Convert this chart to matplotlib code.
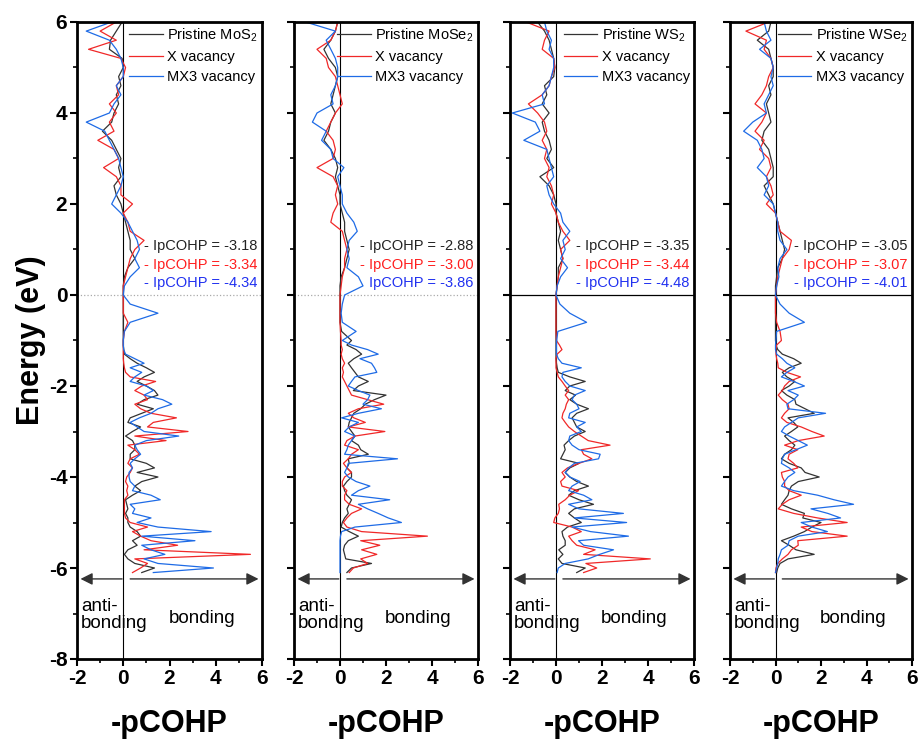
import numpy as np
import matplotlib.pyplot as plt
from matplotlib.ticker import MultipleLocator

plt.rcParams['font.family'] = ['Liberation Sans', 'DejaVu Sans']
plt.rcParams['axes.unicode_minus'] = False

# energy grid (eV): coarse above -1 eV, finer in the bonding region
energy_hi = np.round(np.arange(6.0, -0.9, -0.2), 2)
energy_lo = np.round(np.arange(-1.0, -6.15, -0.1), 2)
energy = np.concatenate([energy_hi, energy_lo])

# -pCOHP, one list per curve (hi part then lo part)
mos2_pristine = [
    -0.05, -0.3, -0.55, -0.6, -0.05, 0.0, -0.2, -0.1, -0.3, -0.2,
    -0.4, -0.5, -0.9, -0.5, -0.3, -0.1, -0.2, -0.1, -0.4, -0.3,
    -0.1, 0.0, 0.1, 0.2, 0.3, 0.3, 0.5, 0.2, 0.05, 0.0,
    0.0, 0.0, 0.0, 0.0, 0.0,
    0.0, 0.0, 0.02, 0.05, 0.3, 0.6, 1.0, 1.35, 0.9, 0.6,
    1.0, 1.35, 1.5, 0.9, 0.6, 1.3, 0.8, 0.3, 0.2, 0.75,
    0.4, 0.1, 0.4, 0.5, 0.5, 0.3, 0.3, 1.0, 1.35, 0.6,
    1.5, 0.8, 0.5, 0.75, 0.4, 0.1, 0.15, 0.2, 0.1, 0.2,
    0.2, 0.3, 0.6, 0.75, 0.4, 0.6, 0.2, 0.05, 0.2, 0.5,
    1.35, 0.8]
mos2_xvac = [
    -0.3, -1.0, -0.3, -1.5, -0.1, 0.1, 0.0, -0.3, -0.2, -0.6,
    -0.3, -0.6, -0.4, -1.1, -0.4, -0.2, -0.85, -0.3, -0.1, -0.1,
    0.4, 0.0, 0.2, 0.3, 0.9, 0.5, 0.3, 0.2, 0.1, 0.0,
    0.0, 0.0, 0.0, 0.2, 0.05,
    0.0, 0.0, 0.0, 0.0, 0.0, 0.02, 0.05, 0.1, 0.3, 1.4,
    0.8, 0.5, 0.9, 1.05, 0.5, 0.75, 1.2, 2.3, 1.3, 1.05,
    2.8, 0.5, 1.85, 0.2, 0.5, 0.7, 0.3, 0.2, 0.4, 0.3,
    0.15, 0.1, 0.2, 0.15, 0.2, 0.05, 0.05, 0.05, 0.05, 0.1,
    0.3, 1.05, 0.4, 0.75, 1.2, 2.35, 0.9, 5.5, 0.5, 1.05,
    0.75, 0.4]
mos2_mx3vac = [
    -0.5, -1.6, -0.6, -0.3, -0.1, 0.0, 0.0, -0.3, -0.1, -0.4,
    -0.6, -1.6, -0.8, -0.6, -0.4, -0.2, -0.1, 0.0, -0.1, -0.3,
    -0.5, -0.1, 0.2, 0.4, 0.6, 0.7, 0.5, 0.7, 0.3, 0.05,
    0.0, 0.3, 1.5, 0.3, 0.05,
    0.0, 0.0, 0.02, 0.1, 0.5, 0.9, 0.3, 0.8, 0.5, 0.3,
    1.0, 1.3, 0.9, 1.7, 2.1, 1.5, 1.2, 0.7, 0.3, 0.6,
    0.9, 2.4, 1.0, 0.5, 0.6, 0.75, 0.5, 0.3, 0.4, 0.25,
    0.25, 0.3, 0.5, 0.4, 1.2, 1.6, 0.3, 0.5, 0.4, 1.2,
    0.6, 1.5, 3.8, 0.8, 3.1, 0.8, 1.2, 1.8, 0.9, 1.5,
    3.9, 1.3]

mose2_pristine = [
    -0.1, -0.2, -0.4, -0.7, -0.5, -0.2, -0.1, -0.2, -0.3, -0.4,
    -0.2, -0.4, -0.5, -0.7, -0.4, -0.2, -0.1, -0.2, -0.1, 0.0,
    0.0, 0.1, 0.2, 0.2, 0.3, 0.4, 0.3, 0.2, 0.05, 0.0,
    0.0, 0.0, 0.0, 0.0, 0.07,
    0.5, 0.3, 0.7, 0.94, 0.6, 0.36, 0.5, 0.65, 0.8, 1.23,
    0.8, 0.58, 2.0, 1.5, 1.1, 0.9, 0.6, 0.5, 0.4, 0.36,
    0.5, 0.65, 0.5, 0.8, 0.9, 1.23, 0.36, 0.4, 0.3, 0.5,
    0.5, 0.3, 0.15, 0.2, 0.3, 0.5, 0.4, 0.3, 0.36, 0.2,
    0.1, 0.05, 0.4, 0.8, 0.36, 0.2, 0.15, 0.2, 0.25, 1.37,
    0.5, 0.3]
mose2_xvac = [
    -0.1, -0.2, -0.4, -1.0, -0.6, -0.5, -0.2, -0.1, 0.0, 0.1,
    -0.2, -0.4, -0.6, -0.3, -0.2, -0.3, -1.0, -0.3, -0.1, -0.2,
    -0.1, -0.3, -0.4, 0.1, 0.2, 0.3, 0.2, 0.2, 0.1, 0.05,
    0.0, 0.0, 0.0, 0.0, 0.02,
    0.05, 0.05, 0.1, 0.05, 0.1, 0.2, 0.1, 0.15, 0.1, 0.2,
    0.3, 0.4, 0.5, 1.2, 1.9, 0.8, 0.36, 0.6, 1.1, 0.36,
    1.95, 0.65, 0.3, 0.2, 0.8, 0.5, 0.36, 0.15, 0.3, 0.5,
    0.2, 0.1, 0.1, 0.3, 0.2, 0.2, 0.4, 0.94, 0.5, 0.3,
    0.15, 0.3, 0.94, 3.8, 0.9, 1.73, 0.94, 1.6, 0.9, 1.2,
    0.58, 0.4]
mose2_mx3vac = [
    -1.5, -0.2, -0.6, -0.4, -0.2, -0.1, -0.1, -0.2, -0.4, -0.3,
    -1.0, -1.2, -0.6, -0.8, -0.4, -0.3, 0.17, -0.1, 0.0, 0.1,
    0.1, 0.3, 0.6, 0.75, 0.4, 0.3, 0.4, 0.3, 0.8, 1.0,
    0.2, 0.1, 0.05, 0.1, 0.7,
    0.1, 0.5, 1.2, 1.66, 0.87, 1.37, 1.5, 1.6, 0.65, 0.5,
    0.36, 0.8, 1.3, 1.2, 1.0, 1.8, 0.8, 0.07, 0.8, 0.4,
    0.2, 0.65, 0.5, 0.36, 0.3, 0.2, 2.5, 0.36, 0.3, 0.2,
    0.36, 0.7, 1.3, 0.8, 0.5, 2.16, 0.8, 1.2, 1.66, 2.1,
    2.67, 0.65, 0.07, 0.02, 0.0, 0.0, 0.0, 0.0, 0.0, 0.0,
    0.0, 0.0]

ws2_pristine = [
    -0.8, -0.5, -0.3, -0.2, -0.1, -0.05, -0.1, -0.5, -0.4, -0.6,
    -0.3, -0.6, -0.5, -0.3, -0.2, -0.4, -0.1, -0.7, -0.3, -0.1,
    0.0, 0.0, 0.1, 0.2, 0.1, 0.2, 0.3, 0.1, 0.1, 0.05,
    0.0, 0.0, 0.0, 0.0, 0.0,
    0.0, 0.0, 0.0, 0.0, 0.0, 0.02, 0.05, 0.1, 0.6, 1.27,
    0.6, 0.4, 0.85, 0.6, 0.9, 1.41, 0.9, 0.7, 0.8, 0.9,
    1.27, 0.8, 0.55, 0.35, 0.4, 0.3, 0.2, 1.0, 0.6, 0.4,
    0.6, 0.9, 1.41, 0.8, 0.55, 1.0, 1.63, 0.8, 0.55, 0.8,
    1.1, 0.5, 0.26, 0.3, 0.4, 0.4, 0.12, 0.3, 0.1, 0.26,
    1.27, 0.9]
ws2_xvac = [
    -1.3, -0.3, -0.5, -0.6, -0.1, -0.05, -0.2, -0.3, -0.6, -1.2,
    -0.8, -0.5, -0.4, -0.6, -0.4, -0.5, -0.3, -0.4, -0.2, -0.1,
    -0.2, 0.0, 0.1, 0.3, 0.6, 0.2, 0.3, 0.2, 0.1, 0.05,
    0.0, 0.0, 0.0, 0.0, 0.0,
    0.02, 0.15, 0.26, 0.05, 0.0, 0.0, 0.0, 0.05, 0.1, 0.26,
    0.4, 0.55, 0.4, 0.55, 0.45, 0.4, 0.3, 0.26, 0.4, 0.55,
    0.8, 1.1, 1.4, 2.35, 1.1, 1.2, 1.56, 1.0, 0.5, 0.26,
    0.4, 0.2, 0.26, 0.98, 0.6, 0.4, 0.12, 0.15, 0.1, -0.05,
    -0.1, 0.7, 1.1, 0.55, 0.7, 0.9, 1.7, 1.2, 4.1, 1.3,
    1.77, 1.2]
ws2_mx3vac = [
    -0.5, -0.4, -0.2, -0.3, -0.1, -0.1, -0.2, -0.3, -0.6, -0.5,
    -1.9, -0.9, -0.7, -1.4, -0.4, -0.3, -0.2, -0.1, -0.4, -0.3,
    -0.1, 0.2, 0.3, 0.6, 0.3, 0.4, 0.2, 0.5, 0.2, 0.05,
    0.0, 0.17, 0.6, 1.33, 0.08,
    0.03, 0.02, 0.02, 0.02, 0.1, 0.26, 1.1, 0.3, 0.26, 0.4,
    0.6, 1.27, 0.8, 0.7, 0.9, 1.0, 0.6, 0.55, 1.27, 0.9,
    1.1, 0.6, 0.55, 0.7, 1.0, 1.92, 1.85, 0.8, 0.55, 0.4,
    0.6, 1.05, 0.7, 0.55, 1.2, 1.56, 0.55, 1.0, 2.93, 0.8,
    3.07, 0.7, 1.5, 3.15, 0.98, 1.2, 2.5, 1.9, 1.4, 0.4,
    0.1, 0.05]

wse2_pristine = [
    -0.2, -0.3, -0.8, -0.3, -0.2, -0.1, -0.1, -0.3, -0.2, -0.4,
    -0.3, -0.2, -0.5, -0.6, -0.3, -0.2, -0.1, -0.1, -0.5, -0.3,
    -0.1, 0.0, 0.1, 0.2, 0.3, 0.4, 0.3, 0.1, 0.05, 0.0,
    0.0, 0.0, 0.0, 0.0, 0.0,
    0.0, 0.02, 0.1, 0.3, 0.8, 1.13, 0.6, 0.3, 0.5, 0.85,
    0.6, 0.26, 0.5, 0.85, 0.9, 1.3, 1.7, 0.55, 0.8, 0.98,
    0.7, 0.4, 0.6, 0.85, 0.7, 0.4, 0.26, 0.6, 1.13, 1.3,
    1.92, 1.0, 0.7, 0.6, 0.55, 0.4, 0.26, 0.7, 1.27, 1.2,
    2.0, 1.6, 1.27, 0.8, 0.26, 0.6, 0.9, 1.7, 0.55, 0.2,
    0.1, 0.05]
wse2_xvac = [
    -0.3, -1.3, -0.4, -0.5, -0.2, -0.1, -0.3, -0.4, -0.6, -0.9,
    -0.4, -0.6, -0.9, -0.5, -0.7, -0.3, -0.2, -0.4, -0.2, -0.1,
    -0.4, 0.0, 0.1, 0.2, 0.7, 0.6, 0.3, 0.2, 0.1, 0.05,
    0.0, 0.0, 0.0, 0.05, 0.2,
    0.26, 0.05, 0.02, 0.02, 0.05, 0.1, 0.12, 0.5, 1.1, 0.6,
    0.4, 0.3, 0.12, 0.3, 0.55, 0.6, 0.4, 0.26, 0.5, 1.13,
    1.6, 2.14, 1.0, 0.4, 0.98, 0.6, 0.55, 0.8, 0.98, 0.26,
    0.3, 0.4, 0.4, 0.6, 1.13, 0.6, 0.3, 0.12, 0.8, 1.85,
    3.15, 1.13, 1.6, 3.15, 0.98, 1.0, 0.7, 0.55, 0.3, 0.1,
    0.02, 0.0]
wse2_mx3vac = [
    -0.5, -0.4, -0.2, -0.7, -0.2, -0.1, -0.2, -0.1, -0.3, -0.5,
    -0.4, -1.0, -1.4, -0.8, -0.6, -0.5, -0.8, -0.4, -0.3, -0.5,
    -0.1, 0.0, 0.1, 0.1, 0.2, 0.5, 0.2, 0.1, 0.15, 0.05,
    0.0, 0.2, 0.6, 1.27, 0.05,
    0.02, 0.0, 0.0, 0.05, 0.3, 0.5, 0.85, 0.5, 0.26, 0.8,
    1.27, 0.55, 1.0, 0.8, 0.5, 0.55, 2.2, 1.0, 0.7, 0.4,
    0.26, 0.6, 1.0, 1.4, 0.9, 0.4, 0.3, 0.26, 0.6, 0.85,
    0.55, 0.4, 0.26, 0.8, 1.85, 2.57, 3.43, 1.56, 2.3, 2.86,
    1.13, 1.6, 2.28, 1.0, 0.6, 0.55, 0.26, 0.2, 0.12, 0.1,
    0.05, 0.0]

materials = ['MoS$_\\mathregular{2}$', 'MoSe$_\\mathregular{2}$',
             'WS$_\\mathregular{2}$', 'WSe$_\\mathregular{2}$']
pristine = [mos2_pristine, mose2_pristine, ws2_pristine, wse2_pristine]
xvac = [mos2_xvac, mose2_xvac, ws2_xvac, wse2_xvac]
mx3vac = [mos2_mx3vac, mose2_mx3vac, ws2_mx3vac, wse2_mx3vac]
ipcohp_pristine = ['-3.18', '-2.88', '-3.35', '-3.05']
ipcohp_xvac = ['-3.34', '-3.00', '-3.44', '-3.07']
ipcohp_mx3vac = ['-4.34', '-3.86', '-4.48', '-4.01']
blue_dash = ['- ', '', '- ', '- ']

c_black = '#333333'
c_red = '#f02828'
c_blue = '#1e6be6'

fig = plt.figure(figsize=(9.21, 7.45), dpi=100)
lefts = [77, 294, 510, 730]
widths = [185, 184, 184, 182]

for i in range(4):
    ax = fig.add_axes([lefts[i] / 921, 86 / 745, widths[i] / 921, 637 / 745])
    ax.plot(pristine[i], energy, color=c_black, lw=0.9, label='Pristine ' + materials[i])
    ax.plot(xvac[i], energy, color=c_red, lw=0.9, label='X vacancy')
    ax.plot(mx3vac[i], energy, color=c_blue, lw=0.9, label='MX3 vacancy')

    ax.axvline(0, color='black', lw=0.8, zorder=1)
    if i < 2:
        ax.axhline(0, color='#aaaaaa', lw=0.9, ls=':', zorder=1)
    else:
        ax.axhline(0, color='black', lw=0.9, zorder=1)

    ax.set_xlim(-2, 6)
    ax.set_ylim(-8, 6)
    ax.xaxis.set_major_locator(MultipleLocator(2))
    ax.xaxis.set_minor_locator(MultipleLocator(1))
    ax.yaxis.set_major_locator(MultipleLocator(2))
    ax.yaxis.set_minor_locator(MultipleLocator(1))
    ax.tick_params(which='major', direction='out', length=5, width=1.5,
                   labelsize=15, pad=2)
    ax.tick_params(which='minor', direction='out', length=3, width=1.2)
    for lab in ax.get_xticklabels() + ax.get_yticklabels():
        lab.set_fontweight('bold')
    if i > 0:
        ax.tick_params(axis='y', labelleft=False)
    for sp in ax.spines.values():
        sp.set_linewidth(2.0)

    ax.set_xlabel('-pCOHP', fontsize=22, fontweight='bold', labelpad=15)
    if i == 0:
        ax.set_ylabel('Energy (eV)', fontsize=22, fontweight='bold', labelpad=2)

    ax.legend(loc='upper right', frameon=False, fontsize=10.5,
              handlelength=2.3, handletextpad=0.3, labelspacing=0.4,
              borderaxespad=0.1, borderpad=0.2)

    ax.text(5.8, 1.07, '- IpCOHP = ' + ipcohp_pristine[i], color='#222222',
            fontsize=10.5, ha='right', va='center')
    ax.text(5.8, 0.66, '- IpCOHP = ' + ipcohp_xvac[i], color='#ff1e1e',
            fontsize=10.5, ha='right', va='center')
    ax.text(5.8, 0.26, blue_dash[i] + 'IpCOHP = ' + ipcohp_mx3vac[i], color='#2030f0',
            fontsize=10.5, ha='right', va='center')

    # anti-bonding / bonding arrows
    ax.annotate('', xy=(-1.85, -6.24), xytext=(-0.05, -6.24),
                arrowprops=dict(arrowstyle='-|>', color='#333333', lw=1.0,
                                mutation_scale=18, shrinkA=0, shrinkB=0))
    ax.annotate('', xy=(5.85, -6.24), xytext=(0.3, -6.24),
                arrowprops=dict(arrowstyle='-|>', color='#333333', lw=1.0,
                                mutation_scale=18, shrinkA=0, shrinkB=0))
    ax.text(-1.82, -7.03, 'anti-\nbonding', fontsize=13.5, ha='left', va='center',
            linespacing=1.0)
    ax.text(1.95, -7.1, 'bonding', fontsize=13.5, ha='left', va='center')

fig.savefig('out.png', dpi=100)
